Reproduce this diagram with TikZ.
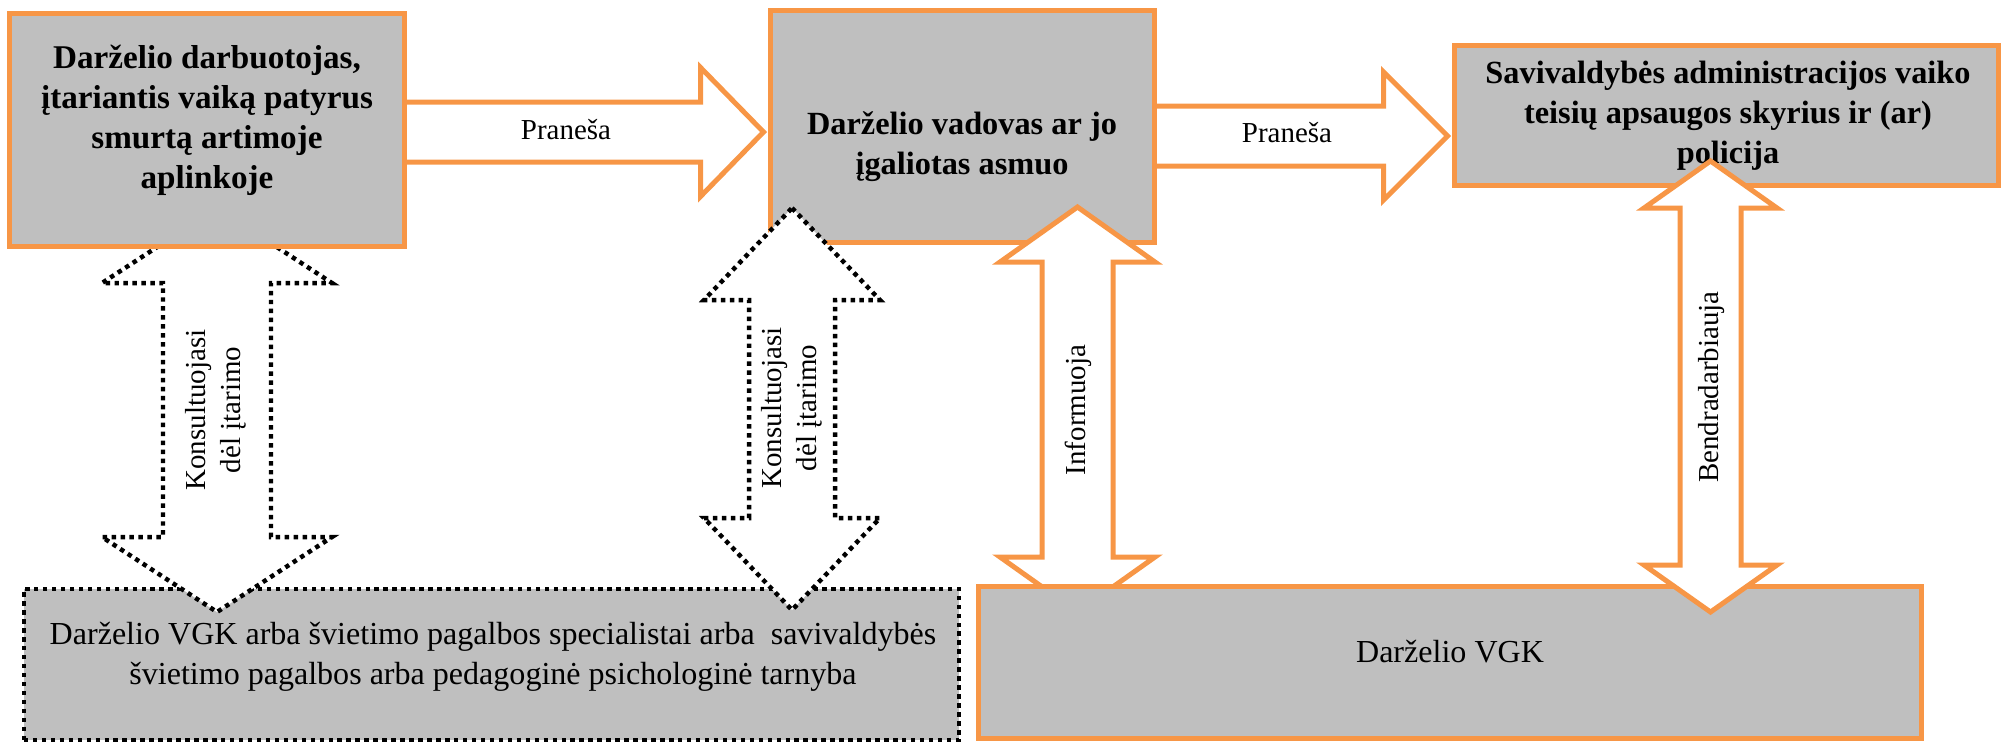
\documentclass[tikz,border=0pt]{standalone}
\usepackage{fontspec}
\setmainfont{Liberation Serif}
\usepackage{tikz}
\usetikzlibrary{positioning, calc}

\definecolor{boxorange}{HTML}{F79646}
\definecolor{boxgray}{HTML}{BFBFBF}

\begin{document}
\begin{tikzpicture}[
    x=0.125mm, y=-0.125mm,
    obox/.style={rectangle, draw=boxorange, fill=boxgray, line width=0.625mm, inner sep=0pt},
    dbox/.style={rectangle, draw=black, fill=boxgray, line width=0.56mm,
                 dash pattern=on 0.56mm off 0.56mm, inner sep=0pt},
    oarrow/.style={draw=boxorange, line width=0.625mm, fill=white},
    darrow/.style={draw=black, line width=0.56mm, dash pattern=on 0.56mm off 0.56mm, fill=white},
    btext/.style={font=\fontsize{11.5}{14.2}\selectfont\bfseries, align=center},
    ntext/.style={font=\fontsize{11.4}{14.2}\selectfont, align=center},
    ltext/.style={font=\fontsize{10.3}{14.2}\selectfont, align=center},
    vtext/.style={font=\fontsize{10.3}{12.45}\selectfont, align=center, rotate=90}
]
    \useasboundingbox (0,0) rectangle (2004,744);

    % Consultation box
    \node[dbox, minimum width=116.9mm, minimum height=18.9mm] (pagalba) at (491.5,664.5) {};
    \node[ntext] (pagalbatxt) at (493,657) {Darželio VGK arba švietimo pagalbos specialistai arba~ savivaldybės\\švietimo pagalbos arba pedagoginė psichologinė tarnyba};

    % Left dotted arrow
    \coordinate (k1t) at (217,208);
    \coordinate (k1b) at (217,612);
    \draw[darrow] (k1t) -- ($(k1t)+(115,75)$) -- ($(k1t)+(54,75)$) -- ($(k1b)+(54,-75)$)
        -- ($(k1b)+(115,-75)$) -- (k1b) -- ($(k1b)+(-115,-75)$) -- ($(k1b)+(-54,-75)$)
        -- ($(k1t)+(-54,75)$) -- ($(k1t)+(-115,75)$) -- cycle;
    \node[vtext] (kons1) at (215.5,410) {Konsultuojasi\\dėl įtarimo};

    % Top row
    \node[obox, minimum width=49.25mm, minimum height=29.1mm] (darb) at (207,130) {};
    \node[btext, font=\fontsize{11.8}{14.2}\selectfont\bfseries] (darbtxt) at (207,120) {Darželio darbuotojas,\\įtariantis vaiką patyrus\\smurtą artimoje\\aplinkoje};

    \node[obox, minimum width=48mm, minimum height=28.9mm] (vadovas) at (962,126.5) {};
    \node[btext] (vadovastxt) at (962,147) {Darželio vadovas ar jo\\įgaliotas asmuo};

    \node[obox, minimum width=68.1mm, minimum height=17.5mm] (skyrius) at (1726.5,115.5) {};
    \node[btext] (skyriustxt) at (1728,116) {Savivaldybės administracijos vaiko\\teisių apsaugos skyrius ir (ar)\\policija};

    % Praneša arrows
    \coordinate (p1s) at ($(darb.east)+(0,2)$);
    \coordinate (p1e) at ($(vadovas.west |- p1s)+(-4,0)$);
    \draw[oarrow, fill=none] ($(p1s)+(0,-30)$) -- ($(p1e)+(-63,-30)$) -- ($(p1e)+(-63,-64.5)$) -- (p1e)
        -- ($(p1e)+(-63,64.5)$) -- ($(p1e)+(-63,30)$) -- ($(p1s)+(0,30)$);
    \node[ltext] (pran1) at (566,130) {Praneša};

    \coordinate (p2s) at ($(vadovas.east)+(0,9.5)$);
    \coordinate (p2e) at ($(skyrius.west |- p2s)+(-4,0)$);
    \draw[oarrow, fill=none] ($(p2s)+(0,-30)$) -- ($(p2e)+(-64,-30)$) -- ($(p2e)+(-64,-64)$) -- (p2e)
        -- ($(p2e)+(-64,64)$) -- ($(p2e)+(-64,30)$) -- ($(p2s)+(0,30)$);
    \node[ltext] (pran2) at (1287,133) {Praneša};

    % Middle dotted arrow
    \coordinate (k2t) at (792,208);
    \coordinate (k2b) at (792,610);
    \draw[darrow] (k2t) -- ($(k2t)+(88,92)$) -- ($(k2t)+(43,92)$) -- ($(k2b)+(43,-92)$)
        -- ($(k2b)+(88,-92)$) -- (k2b) -- ($(k2b)+(-88,-92)$) -- ($(k2b)+(-43,-92)$)
        -- ($(k2t)+(-43,92)$) -- ($(k2t)+(-88,92)$) -- cycle;
    \node[vtext] (kons2) at (792,408) {Konsultuojasi\\dėl įtarimo};

    % Informuoja arrow
    \coordinate (it) at (1077.5,207);
    \coordinate (ib) at (1077.5,612);
    \draw[oarrow] (it) -- ($(it)+(77.5,55)$) -- ($(it)+(35.5,55)$) -- ($(ib)+(35.5,-55)$)
        -- ($(ib)+(77.5,-55)$) -- (ib) -- ($(ib)+(-77.5,-55)$) -- ($(ib)+(-35.5,-55)$)
        -- ($(it)+(-35.5,55)$) -- ($(it)+(-77.5,55)$) -- cycle;
    \node[vtext] (inform) at (1078,410) {Informuoja};

    % VGK box
    \node[obox, minimum width=117.9mm, minimum height=19.1mm] (vgk) at (1450,662.5) {};
    \node[ntext] (vgktxt) at (1450,652) {Darželio VGK};

    % Bendradarbiauja arrow
    \coordinate (bt) at (1710.5,161);
    \coordinate (bb) at (1710.5,612);
    \draw[oarrow] (bt) -- ($(bt)+(66.5,47)$) -- ($(bt)+(30.5,47)$) -- ($(bb)+(30.5,-47)$)
        -- ($(bb)+(66.5,-47)$) -- (bb) -- ($(bb)+(-66.5,-47)$) -- ($(bb)+(-30.5,-47)$)
        -- ($(bt)+(-30.5,47)$) -- ($(bt)+(-66.5,47)$) -- cycle;
    \node[vtext] (bendr) at (1712,387) {Bendradarbiauja};

\end{tikzpicture}
\end{document}
